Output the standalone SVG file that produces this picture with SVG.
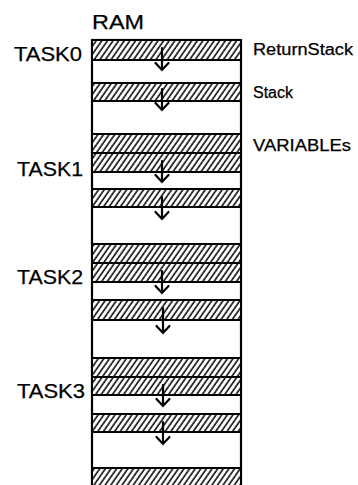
<svg xmlns="http://www.w3.org/2000/svg" width="358" height="485" viewBox="0 0 358 485">
<style>
text{font-family:"Liberation Sans",Arial,sans-serif;fill:#000;stroke:#000;stroke-width:0.25}
.lbl{font-size:21px}
.side{font-size:16px}
.band{fill:url(#hatch);stroke:#000;stroke-width:2}
.box{fill:#fff;stroke:#000;stroke-width:2.2}
</style>
<defs>
<pattern id="hatch" patternUnits="userSpaceOnUse" width="4.6" height="10" patternTransform="rotate(35)">
<rect width="4.6" height="10" fill="#fff"/>
<line x1="1" y1="0" x2="1" y2="10" stroke="#000" stroke-width="1.5"/>
</pattern>
</defs>
<g id="ram">
<rect class="box" x="92" y="40" width="149" height="450"/>
<text x="92" y="29" font-size="20" textLength="52" lengthAdjust="spacingAndGlyphs">RAM</text>
</g>
<g id="task0">
<text class="lbl" x="14" y="61" textLength="68" lengthAdjust="spacingAndGlyphs">TASK0</text>
<rect class="band" x="92" y="40" width="149" height="20"/>
<rect class="band" x="92" y="83" width="149" height="18"/>
<rect class="band" x="92" y="134" width="149" height="19"/>
<text class="side" x="253" y="55" textLength="100" lengthAdjust="spacingAndGlyphs">ReturnStack</text>
<text class="side" x="253" y="98">Stack</text>
<text class="side" x="253" y="151" textLength="98" lengthAdjust="spacingAndGlyphs">VARIABLEs</text>
</g>
<g id="task1">
<text class="lbl" x="17" y="176" textLength="66" lengthAdjust="spacingAndGlyphs">TASK1</text>
<rect class="band" x="92" y="153" width="149" height="19"/>
<rect class="band" x="92" y="189" width="149" height="18"/>
<rect class="band" x="92" y="244" width="149" height="19"/>
</g>
<g id="task2">
<text class="lbl" x="17" y="284" textLength="66" lengthAdjust="spacingAndGlyphs">TASK2</text>
<rect class="band" x="92" y="263" width="149" height="19"/>
<rect class="band" x="92" y="300" width="149" height="20"/>
<rect class="band" x="92" y="358" width="149" height="19"/>
</g>
<g id="task3">
<text class="lbl" x="17" y="398" textLength="68" lengthAdjust="spacingAndGlyphs">TASK3</text>
<rect class="band" x="92" y="377" width="149" height="18"/>
<rect class="band" x="92" y="414" width="149" height="18"/>
<rect class="band" x="92" y="468" width="149" height="22"/>
</g>
<g id="connectors" fill="none" stroke="#000" stroke-width="2.2" stroke-linecap="round" stroke-linejoin="miter">
<path d="M162 48V70M155.5 63L162 70L168.5 63"/>
<path d="M162 89V110M155.5 103L162 110L168.5 103"/>
<path d="M162 161V182M155.5 175L162 182L168.5 175"/>
<path d="M162 197V219M155.5 212L162 219L168.5 212"/>
<path d="M162 271V293M155.5 286L162 293L168.5 286"/>
<path d="M163 308V333M156.5 326L163 333L169.5 326"/>
<path d="M163 385V406M156.5 399L163 406L169.5 399"/>
<path d="M163 422V444M156.5 437L163 444L169.5 437"/>
</g>
</svg>
